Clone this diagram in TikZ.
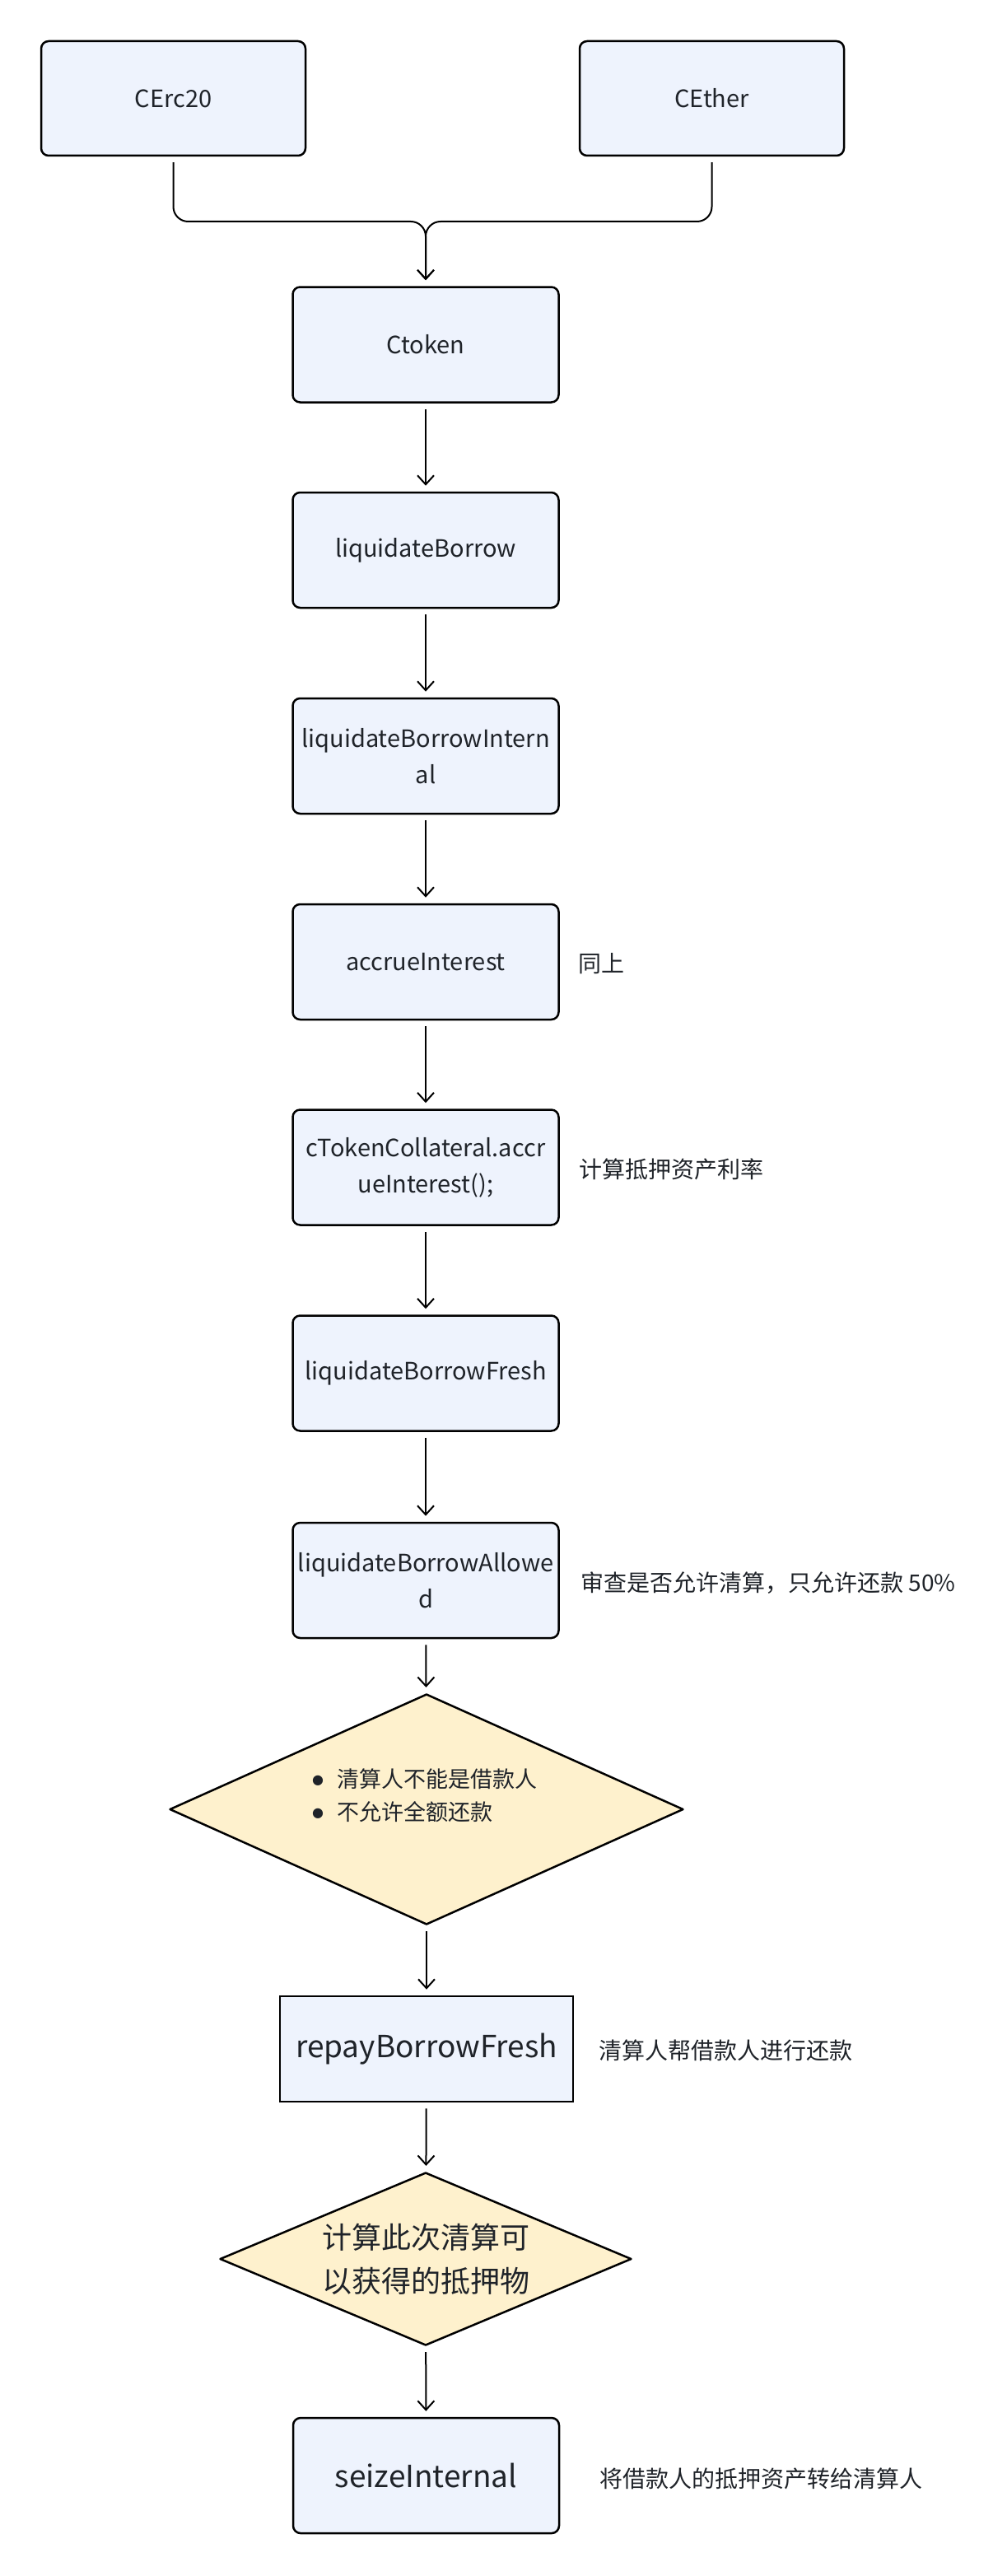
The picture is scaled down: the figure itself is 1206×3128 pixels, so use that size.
\documentclass[tikz,border=0pt]{standalone}
\usepackage{fontspec}
\setmainfont{Noto Sans CJK SC}
\newfontfamily\dejavu{DejaVu Sans}
\usetikzlibrary{arrows.meta,shapes.geometric}
\definecolor{boxfill}{HTML}{EEF3FD}
\definecolor{diafill}{HTML}{FEF1CD}
\definecolor{ink}{HTML}{1F2329}
\newcommand{\bul}{\makebox[31pt][l]{\hspace{1pt}\raisebox{4pt}{\dejavu\fontsize{16}{16}\selectfont ●}}}
\begin{document}
\begin{tikzpicture}[x=1pt,y=-1pt,
  fbox/.style={draw=black, line width=2.5pt, fill=boxfill, rounded corners=9pt,
    minimum width=323pt, minimum height=140pt, inner sep=0pt, align=center,
    text=ink, font=\fontsize{29}{44}\selectfont},
  bigbox/.style={fbox, font=\fontsize{37}{50}\selectfont},
  dia/.style={diamond, draw=black, line width=2.5pt, line join=round, fill=diafill,
    inner sep=0pt, text=ink},
  lbl/.style={anchor=west, inner sep=0pt, text=ink, font=\fontsize{28}{34}\selectfont},
  conn/.style={draw=black, line width=2pt, -{Straight Barb[length=11pt,width=20pt]},
    shorten <=7pt, shorten >=7pt}]
\useasboundingbox[fill=white] (0,0) rectangle (1206,3128);

\node[fbox, minimum width=321pt, minimum height=139pt] (cerc) at (210.5,119.5) {CErc20};
\node[fbox, minimum width=321pt, minimum height=139pt] (ceth) at (864.5,119.5) {CEther};
\node[fbox] (ctoken) at (517,418.5) {Ctoken};
\node[fbox] (lb) at (517,668) {liquidateBorrow};
\node[fbox] (lbi) at (517,918) {liquidateBorrowIntern\\al};
\node[fbox] (ai) at (517,1168) {accrueInterest};
\node[fbox] (cta) at (517,1417.5) {cTokenCollateral.accr\\ueInterest();};
\node[fbox] (lbf) at (517,1667.5) {liquidateBorrowFresh};
\node[fbox] (lba) at (517,1919) {liquidateBorrowAllowe\\d};

\node[dia, minimum width=624pt, minimum height=280pt, shape aspect=2.23] (d1) at (518,2197) {};
\node[anchor=west, inner sep=0pt, align=left, text=ink, font=\fontsize{27}{40}\selectfont] (d1t) at (378,2180)
  {\bul 清算人不能是借款人\\\bul 不允许全额还款};

\node[bigbox, rounded corners=0pt, minimum width=356pt, minimum height=128pt] (rbf) at (518,2488) {repayBorrowFresh};

\node[dia, minimum width=500pt, minimum height=210pt, shape aspect=2.38, align=center,
  font=\fontsize{36}{53}\selectfont] (d2) at (517,2743) {计算此次清算可\\以获得的抵押物};

\node[bigbox] (si) at (517.5,3006) {seizeInternal};

\node[lbl] (n1) at (702,1170) {同上};
\node[lbl] (n2) at (703,1420) {计算抵押资产利率};
\node[lbl] (n3) at (705,1922) {审查是否允许清算，只允许还款 50\%};
\node[lbl] (n4) at (727,2490) {清算人帮借款人进行还款};
\node[lbl] (n5) at (728,3010) {将借款人的抵押资产转给清算人};

\coordinate (m) at (517,269);
\draw[line width=2pt, rounded corners=18pt, -{Straight Barb[length=11pt,width=20pt]}, shorten >=7pt]
  ([yshift=-7pt]cerc.south) |- (m) -- (ctoken.north);
\draw[line width=2pt, rounded corners=18pt, -{Straight Barb[length=11pt,width=20pt]}, shorten >=7pt]
  ([yshift=-7pt]ceth.south) |- (m) -- (ctoken.north);

\draw[conn] (ctoken) -- (lb);
\draw[conn] (lb) -- (lbi);
\draw[conn] (lbi) -- (ai);
\draw[conn] (ai) -- (cta);
\draw[conn] (cta) -- (lbf);
\draw[conn] (lbf) -- (lba);
\draw[conn] (lba) -- (d1);
\draw[conn] (d1) -- (rbf);
\draw[conn] (rbf) -- (d2);
\draw[conn] (d2) -- (si);
\end{tikzpicture}
\end{document}
